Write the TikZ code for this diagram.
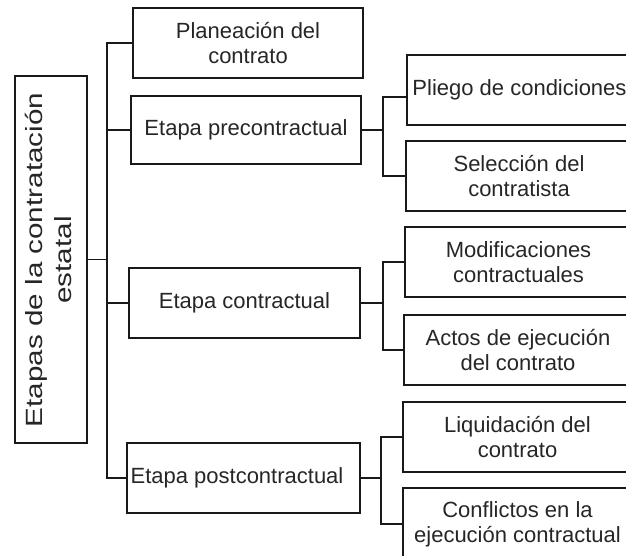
\documentclass[tikz,border=0pt]{standalone}
\usepackage{fontspec}
\setmainfont{Liberation Sans}
\usetikzlibrary{calc}
\tikzset{
  box/.style={draw=black!90, line width=1.7pt, inner sep=0pt, outer sep=0pt,
    align=center, text=black!85, font=\fontsize{22}{25}\selectfont},
  rottext/.style={rotate=90, anchor=base, inner sep=0pt, outer sep=0pt,
    text=black!85, font=\fontsize{23.5}{25}\selectfont},
  link/.style={draw=black!90, line width=1.7pt}
}
\begin{document}
\begin{tikzpicture}[x=1pt,y=-1pt]
\useasboundingbox (0,0) rectangle (626,555);
\clip (0,0) rectangle (626,555);
% root box
\node[box, minimum width=72pt, minimum height=367pt] (root) at (51,259.5) {};
\node[rottext] (t1) at (42,260) {\scalebox{1.26}[1]{Etapas de la contratación}};
\node[rottext] (t2) at (71,260) {\scalebox{1.26}[1]{estatal}};
% level 1
\node[box, minimum width=230pt, minimum height=70pt] (plan) at (248,43) {Planeación del\\contrato};
\node[box, minimum width=230pt, minimum height=68pt] (pre) at (246,130) {Etapa precontractual};
\node[box, minimum width=231pt, minimum height=70pt] (con) at (244.5,303) {Etapa contractual};
\node[box, minimum width=233pt, minimum height=70pt] (post) at (243.5,478) {};
\node[box, draw=none] (posttext) at (237,478) {Etapa postcontractual};
% level 2
\node[box, minimum width=225pt, minimum height=70pt] (pliego) at (519.5,90) {Pliego de condiciones};
\node[box, minimum width=226pt, minimum height=70pt] (selec) at (519,176) {Selección del\\contratista};
\node[box, minimum width=227pt, minimum height=70pt] (modif) at (518.5,262) {Modificaciones\\contractuales};
\node[box, minimum width=228pt, minimum height=70pt] (actos) at (518,350) {Actos de ejecución\\del contrato};
\node[box, minimum width=229pt, minimum height=70pt] (liquid) at (517.5,437) {Liquidación del\\contrato};
\node[box, minimum width=229pt, minimum height=72pt] (confl) at (517.5,524) {Conflictos en la\\ejecución contractual};
% bus coordinates
\coordinate (b1) at (107,0);
\coordinate (b2) at (383,0);
\coordinate (b3) at (381,0);
\coordinate (pliin) at ($(pliego.west)+(0,7)$);
% root connectors
\draw[link] (root.east) -- (root.east -| b1);
\draw[link] (plan.west) -- (plan.west -| b1) -- (post.west -| b1) -- (post.west);
\draw[link] (pre.west) -- (pre.west -| b1);
\draw[link] (con.west) -- (con.west -| b1);
% precontractual
\draw[link] (pre.east) -- (pre.east -| b2);
\draw[link] (pliin) -- (pliin -| b2) -- (selec.west -| b2) -- (selec.west);
% contractual
\draw[link] (con.east) -- (con.east -| b2);
\draw[link] (modif.west) -- (modif.west -| b2) -- (actos.west -| b2) -- (actos.west);
% postcontractual
\draw[link] (post.east) -- (post.east -| b3);
\draw[link] (liquid.west) -- (liquid.west -| b3) -- (confl.west -| b3) -- (confl.west);
\end{tikzpicture}
\end{document}
